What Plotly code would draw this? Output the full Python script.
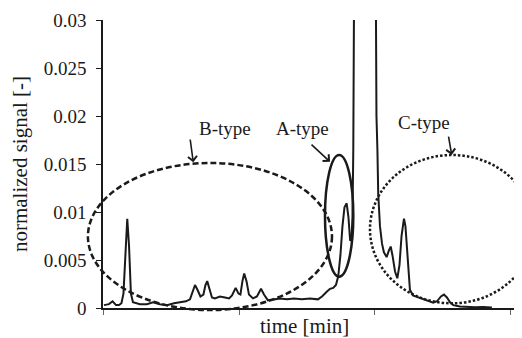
import plotly.graph_objects as go

# ---- data ----
time_min = [0.000, 0.037, 0.064, 0.089, 0.111, 0.129, 0.144, 0.159, 0.172, 0.185, 0.199, 0.214,
            0.266, 0.317, 0.362, 0.413, 0.465, 0.517, 0.561, 0.605, 0.635, 0.657, 0.672, 0.690,
            0.712, 0.734, 0.749, 0.762, 0.779, 0.797, 0.819, 0.856, 0.893, 0.923, 0.945, 0.972,
            0.993, 1.007, 1.022, 1.035, 1.052, 1.070, 1.100, 1.129, 1.159, 1.181, 1.210, 1.255,
            1.299, 1.351, 1.402, 1.461, 1.520, 1.579, 1.609, 1.644, 1.668, 1.692, 1.712, 1.729,
            1.745, 1.760, 1.775, 1.791, 1.804, 1.817, 1.827, 1.834, 1.840, 1.845, 1.847, 1.926,
            2.004, 2.011, 2.018, 2.024, 2.037, 2.052, 2.066, 2.086, 2.103, 2.116, 2.129, 2.148,
            2.165, 2.181, 2.196, 2.207, 2.214, 2.225, 2.236, 2.247, 2.258, 2.280, 2.317, 2.369,
            2.406, 2.430, 2.458, 2.487, 2.509, 2.531, 2.554, 2.578, 2.627, 2.677, 2.738, 2.797,
            2.863]
signal = [0.0003, 0.0004, 0.0007, 0.0003, 0.0003, 0.0005, 0.0015, 0.0060, 0.0093, 0.0065, 0.0015, 0.0006,
          0.0004, 0.0004, 0.0006, 0.0004, 0.0003, 0.0005, 0.0006, 0.0007, 0.0009, 0.0018, 0.0024, 0.0019,
          0.0012, 0.0014, 0.0024, 0.0028, 0.0019, 0.0011, 0.0010, 0.0012, 0.0011, 0.0010, 0.0013, 0.0021,
          0.0015, 0.0014, 0.0028, 0.0036, 0.0028, 0.0014, 0.0010, 0.0012, 0.0020, 0.0014, 0.0008, 0.0009,
          0.0010, 0.0009, 0.0010, 0.0009, 0.0010, 0.0009, 0.0012, 0.0017, 0.0020, 0.0021, 0.0024, 0.0033,
          0.0055, 0.0085, 0.0105, 0.0109, 0.0095, 0.0070, 0.0072, 0.0095, 0.0165, 0.0310, 0.0400, 0.1200,
          0.0400, 0.0200, 0.0165, 0.0119, 0.0085, 0.0067, 0.0058, 0.0053, 0.0060, 0.0064, 0.0055, 0.0038,
          0.0031, 0.0045, 0.0075, 0.0090, 0.0093, 0.0085, 0.0060, 0.0035, 0.0019, 0.0013, 0.0011, 0.0008,
          0.0006, 0.00055, 0.0007, 0.0012, 0.0014, 0.0011, 0.0006, 0.0003, 0.00015, 0.0001, 0.00008, 0.0001,
          0.00005]

y_tickvals = [0, 0.005, 0.01, 0.015, 0.02, 0.025, 0.03]
y_ticktext = ["0", "0.005", "0.01", "0.015", "0.02", "0.025", "0.03"]
x_tickvals = [0, 1, 2, 3]

region_labels = ["B-type", "A-type", "C-type"]

FONT = "Liberation Serif"
INK = "#1a1a1a"
TXT = "#1a1a1a"

fig = go.Figure()
fig.add_trace(go.Scatter(x=time_min, y=signal, mode="lines",
                         line=dict(color=INK, width=2), hoverinfo="skip", showlegend=False))

# ellipses (axis-domain coordinates so they may extend beyond the plot area)
ellipses = [
    dict(x0=-0.036, x1=0.5465, y0=-0.007, y1=0.5035, dash="6px,3px"),   # B
    dict(x0=0.5298, x1=0.5974, y0=0.1087, y1=0.5312, dash="solid"),     # A
    dict(x0=0.6372, x1=1.0286, y0=0.0163, y1=0.5312, dash="2.5px,2px"), # C
]
for e in ellipses:
    fig.add_shape(type="circle", xref="x domain", yref="y domain",
                  x0=e["x0"], x1=e["x1"], y0=e["y0"], y1=e["y1"],
                  line=dict(color=INK, width=2.5, dash=e["dash"]), layer="above")

# labels
label_pos = [(0.2243, 0.625), (0.4773, 0.625), (0.8322, 0.6424)]
for txt, (lx, ly) in zip(region_labels, label_pos):
    fig.add_annotation(text=txt, x=lx, y=ly, xref="paper", yref="paper", showarrow=False,
                       font=dict(family=FONT, size=19, color=TXT))

# arrows: head (paper coords), tail offset in pixels
arrows = [(0.2155, 0.5059, -3.3, -24.3), (0.5418, 0.508, -20, -18.4), (0.8322, 0.5312, -3.4, -20)]
for hx, hy, ax, ay in arrows:
    fig.add_annotation(text="", x=hx, y=hy, xref="paper", yref="paper", showarrow=True,
                       ax=ax, ay=ay, arrowhead=4, arrowsize=1.1, arrowwidth=1.6, arrowcolor=INK)

# x-axis title
fig.add_annotation(text="time [min]", x=0.482, y=-0.062, xref="paper", yref="paper",
                   showarrow=False, xanchor="center", yanchor="middle",
                   font=dict(family=FONT, size=21, color=TXT))

fig.update_layout(
    width=514, height=330,
    margin=dict(l=95, r=0, t=12, b=30),
    paper_bgcolor="white", plot_bgcolor="white",
    font=dict(family=FONT, color=TXT),
    showlegend=False,
)
fig.update_xaxes(range=[-0.007, 3.085], tickvals=x_tickvals, showticklabels=False,
                 ticks="outside", ticklen=5, tickwidth=1, tickcolor="#666",
                 showline=True, linecolor=INK, linewidth=1.5, showgrid=False, zeroline=False)
fig.update_yaxes(range=[0, 0.03], tickvals=y_tickvals, ticktext=y_ticktext,
                 ticks="outside", ticklen=5, tickwidth=1, tickcolor=INK,
                 tickfont=dict(family=FONT, size=19, color=TXT), ticklabelstandoff=6,
                 showline=True, linecolor=INK, linewidth=1.5, showgrid=False, zeroline=False,
                 title=dict(text="normalized signal [-]", font=dict(family=FONT, size=21, color=TXT), standoff=10))

fig.write_html("out.html")
